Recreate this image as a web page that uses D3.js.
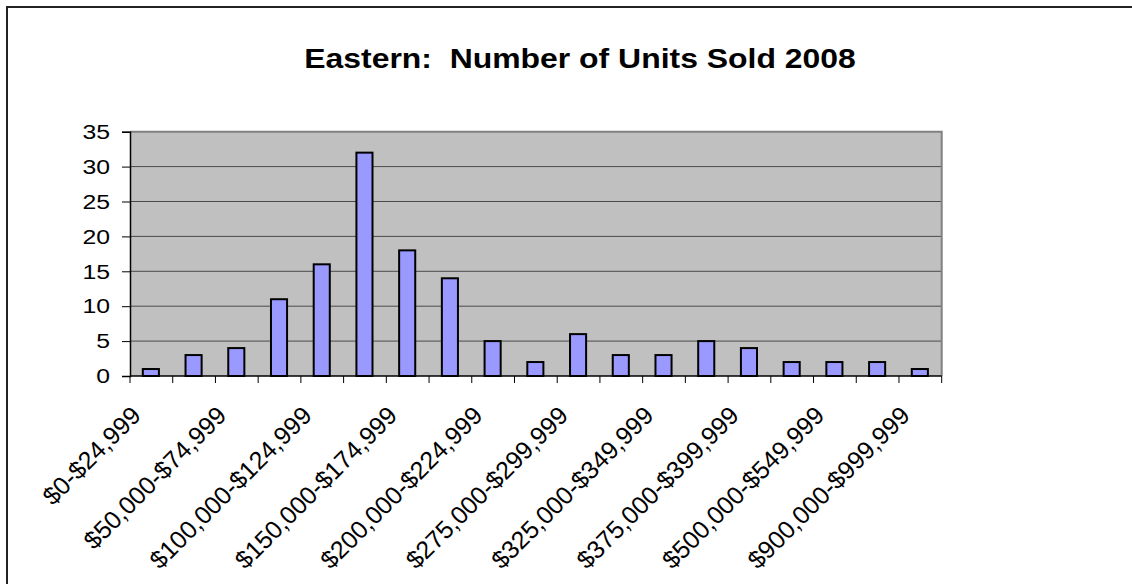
<!DOCTYPE html>
<html>
<head>
<meta charset="utf-8">
<script src="https://cdn.jsdelivr.net/npm/d3@7"></script>
<style>
  html, body { margin: 0; padding: 0; background: #fff; }
  svg { display: block; font-family: Arial, "Liberation Sans", sans-serif; }
</style>
</head>
<body>
<svg id="chart" width="1132" height="584"></svg>
<script>
const categories = [
  "$0-$24,999", "$25,000-$49,999", "$50,000-$74,999", "$75,000-$99,999",
  "$100,000-$124,999", "$125,000-$149,999", "$150,000-$174,999", "$175,000-$199,999",
  "$200,000-$224,999", "$225,000-$274,999", "$275,000-$299,999", "$300,000-$324,999",
  "$325,000-$349,999", "$350,000-$374,999", "$375,000-$399,999", "$400,000-$499,999",
  "$500,000-$549,999", "$550,000-$899,999", "$900,000-$999,999"
];
const units = [1, 3, 4, 11, 16, 32, 18, 14, 5, 2, 6, 3, 3, 5, 4, 2, 2, 2, 1];
const yTicks = [0, 5, 10, 15, 20, 25, 30, 35];
const titleText = "Eastern:  Number of Units Sold 2008";

const svg = d3.select("#chart");
const plot = { left: 130, right: 941.7, top: 131.7, bottom: 376 };
const stretch = 1.18;

// outer chart border (extends past right/bottom edge)
svg.append("rect")
  .attr("x", 7).attr("y", 7).attr("width", 1160).attr("height", 600)
  .attr("fill", "#fff").attr("stroke", "#222").attr("stroke-width", 2);

const xb = d3.scaleBand().domain(categories).range([plot.left, plot.right]);
const y = d3.scaleLinear().domain([0, 35]).range([plot.bottom, plot.top]);

// plot background
svg.append("rect")
  .attr("x", plot.left).attr("y", plot.top)
  .attr("width", plot.right - plot.left).attr("height", plot.bottom - plot.top)
  .attr("fill", "#C0C0C0");

// gridlines
svg.append("g").selectAll("line")
  .data(yTicks.filter(d => d > 0 && d < 35))
  .join("line")
  .attr("x1", plot.left).attr("x2", plot.right)
  .attr("y1", d => y(d)).attr("y2", d => y(d))
  .attr("stroke", "#4a4a4a").attr("stroke-width", 1);

// plot border top/right (gray)
svg.append("path")
  .attr("d", `M${plot.left},${plot.top}H${plot.right}V${plot.bottom}`)
  .attr("fill", "none").attr("stroke", "#808080").attr("stroke-width", 2);

// bars
svg.append("g").selectAll("rect")
  .data(units)
  .join("rect")
  .attr("x", (d, i) => xb(categories[i]) + xb.bandwidth() * 0.3)
  .attr("width", xb.bandwidth() * 0.4 - 1)
  .attr("y", d => y(d))
  .attr("height", d => y(0) - y(d))
  .attr("fill", "#9999FF")
  .attr("stroke", "#000").attr("stroke-width", 2);

// y axis
const yAxis = d3.axisLeft(y).tickValues(yTicks).tickSize(8).tickPadding(12).tickFormat(d3.format("d"));
const gy = svg.append("g").attr("transform", `translate(${plot.left},0)`).call(yAxis);
gy.select(".domain").attr("stroke", "#000").attr("stroke-width", 1.5);
gy.selectAll(".tick line").attr("stroke", "#000");
gy.selectAll(".tick text")
  .attr("font-size", 21).attr("fill", "#000")
  .attr("font-family", "Arial, 'Liberation Sans', sans-serif")
  .attr("x", -20 / stretch)
  .attr("transform", `scale(${stretch},1)`);

// x axis: ticks at category boundaries
const boundaries = categories.map(c => xb(c)).concat([plot.right]);
svg.append("line")
  .attr("x1", plot.left).attr("x2", plot.right)
  .attr("y1", plot.bottom).attr("y2", plot.bottom)
  .attr("stroke", "#000").attr("stroke-width", 1.5);
svg.append("g").selectAll("line")
  .data(boundaries)
  .join("line")
  .attr("x1", d => d).attr("x2", d => d)
  .attr("y1", plot.bottom).attr("y2", plot.bottom + 7)
  .attr("stroke", "#000").attr("stroke-width", 1);

// x labels (every other category)
svg.append("g").selectAll("text")
  .data(categories.filter((c, i) => i % 2 === 0))
  .join("text")
  .attr("transform", d => `translate(${xb(d) + xb.bandwidth() / 2 - 9},${plot.bottom + 41}) rotate(-45)`)
  .attr("text-anchor", "end")
  .attr("font-size", 25)
  .attr("fill", "#000")
  .text(d => d);

// title
svg.append("text")
  .attr("transform", `translate(580,68) scale(1.14,1)`)
  .attr("text-anchor", "middle")
  .attr("font-size", 28).attr("font-weight", "bold")
  .attr("fill", "#000")
  .style("white-space", "pre")
  .text(titleText);
</script>
</body>
</html>
